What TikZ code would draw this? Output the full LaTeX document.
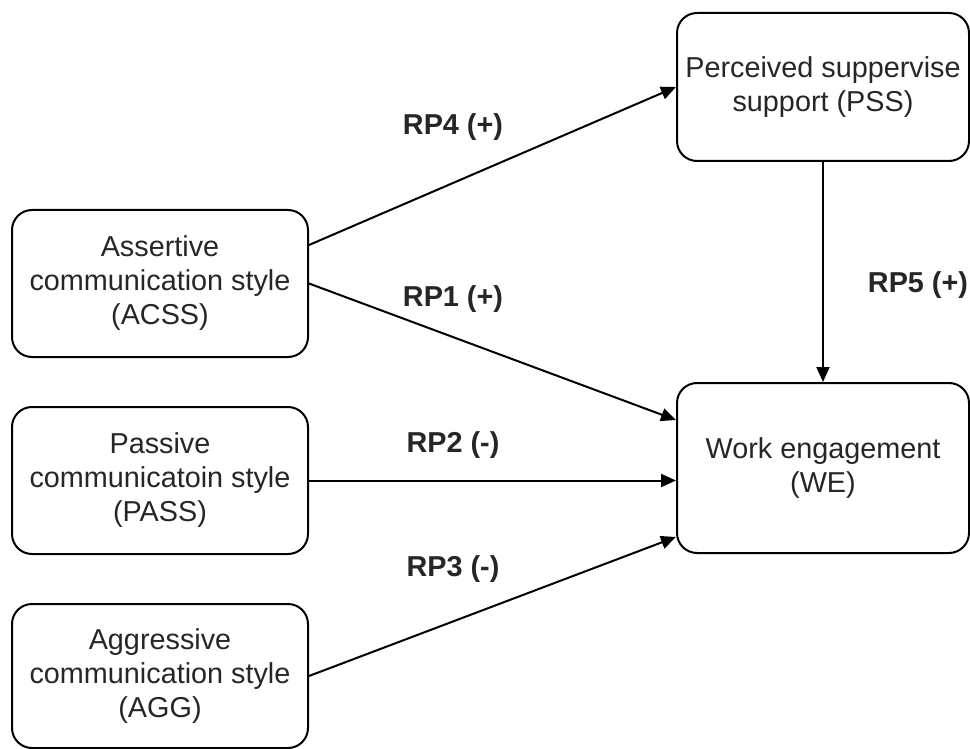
\documentclass[tikz,border=0pt]{standalone}
\usepackage{fontspec}
\setmainfont{Liberation Sans}
\usetikzlibrary{arrows.meta}
\begin{document}
\begin{tikzpicture}[x=0.5pt,y=-0.5pt,
  box/.style={draw=black, line width=1pt, rounded corners=10pt, align=center,
    font=\fontsize{14.4pt}{17pt}\selectfont, text=black!85, inner sep=0pt},
  conn/.style={line width=1pt, -{Triangle[length=7.5pt,width=6.5pt]}},
  lbl/.style={font=\fontsize{14.4pt}{17pt}\selectfont\bfseries, text=black!85, inner sep=0pt}]
\useasboundingbox (0,0) rectangle (970,749);
\node[box, minimum width=148pt, minimum height=73.5pt] (acss) at (160,283.5) {Assertive\\communication style\\(ACSS)};
\node[box, minimum width=148pt, minimum height=73.5pt] (pass) at (160,480.5) {Passive\\communicatoin style\\(PASS)};
\node[box, minimum width=148pt, minimum height=72pt] (agg) at (160,676) {Aggressive\\communication style\\(AGG)};
\node[box, minimum width=146pt, minimum height=74pt] (pss) at (823,87) {Perceived suppervise\\support (PSS)};
\node[box, minimum width=146pt, minimum height=85pt] (we) at (823,468) {Work engagement\\(WE)};
\draw[conn] ([yshift=19.25pt]acss.east) -- (pss.west);
\draw[conn] (acss.east) -- ([yshift=24pt]we.west);
\draw[conn] (pass.east) -- (pass.east -| we.west);
\draw[conn] (agg.east) -- ([yshift=-34.5pt]we.west);
\draw[conn] (pss.south) -- (we.north);
\node[lbl] (l4) at (453,127) {RP4 (+)};
\node[lbl] (l1) at (453,299) {RP1 (+)};
\node[lbl] (l2) at (453,445) {RP2 (-)};
\node[lbl] (l3) at (453,569) {RP3 (-)};
\node[lbl] (l5) at (918,285) {RP5 (+)};
\end{tikzpicture}
\end{document}
